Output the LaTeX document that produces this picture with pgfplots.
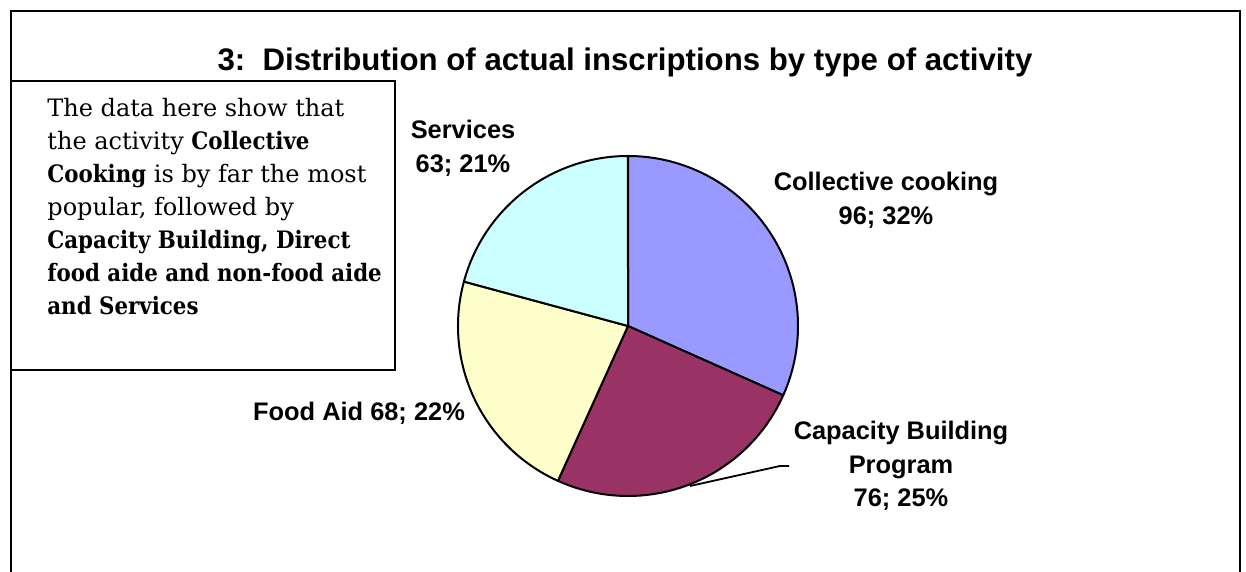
\documentclass[border=0pt]{standalone}
\usepackage{pgfplots}
\pgfplotsset{compat=1.18}
\usepackage{fontspec}
\setmainfont{Liberation Sans}
\newfontfamily\boxfont{DejaVu Serif}[BoldFeatures={FakeStretch=0.89}]

\definecolor{cook}{HTML}{9999FF}
\definecolor{capa}{HTML}{993366}
\definecolor{food}{HTML}{FFFFCC}
\definecolor{serv}{HTML}{CCFFFF}

\begin{document}
\begin{tikzpicture}
% slice angles, clockwise from 12 o'clock; values 96, 76, 68, 63 (total 303)
\pgfmathsetmacro\aA{90}
\pgfmathsetmacro\aB{\aA - 96/303*360}
\pgfmathsetmacro\aC{\aB - 76/303*360}
\pgfmathsetmacro\aD{\aC - 68/303*360}
\pgfmathsetmacro\aE{\aD - 63/303*360}
\begin{axis}[
    x=0.5pt, y=0.5pt,
    xmin=0, xmax=1246, ymin=0, ymax=572,
    hide axis, clip=false,
]
\pgfplotsextra{
  \foreach \s/\e/\c in {\aA/\aB/cook, \aB/\aC/capa, \aC/\aD/food, \aD/\aE/serv} {
    \filldraw[fill=\c, draw=black, line width=1pt, line join=round]
      (axis cs:628,246) -- ++(\s:85pt)
      arc[start angle=\s, end angle=\e, radius=85pt] -- cycle;
  }
}

% outer frame (open at the bottom)
\draw[line width=1.3pt] (axis cs:11,-20) -- (axis cs:11,561) -- (axis cs:1240,561) -- (axis cs:1240,-20);

% title
\node[font=\bfseries\fontsize{15.6}{18}\selectfont] at (axis cs:625,510)
  {3:\ \ Distribution of actual inscriptions by type of activity};

% comment box
\draw[line width=1pt, fill=white] (axis cs:11,202) rectangle (axis cs:395,491);
\node[anchor=north west, inner sep=0pt, align=left,
      font=\boxfont\fontsize{12}{16.5}\selectfont] at (axis cs:47,474)
  {The data here show that\\
   the activity \textbf{Collective}\\
   \textbf{Cooking} is by far the most\\
   popular, followed by\\
   \textbf{Capacity Building, Direct}\\
   \textbf{food aide and non-food aide}\\
   \textbf{and Services}};

% slice labels
\tikzset{lab/.style={font=\bfseries\fontsize{12.7}{16.8}\selectfont, align=center}}
\node[lab] at (axis cs:463,424) {Services\\63; 21\%};
\node[lab] at (axis cs:886,372) {Collective cooking\\96; 32\%};
\node[lab] at (axis cs:359,159) {Food Aid 68; 22\%};
\node[lab] at (axis cs:901,106) {Capacity Building\\Program\\76; 25\%};
\draw[line width=0.9pt] (axis cs:690,86) -- (axis cs:780,106) -- (axis cs:789,106);
\end{axis}
\pgfresetboundingbox
\useasboundingbox (0,0) rectangle (623pt,286pt);
\end{tikzpicture}
\end{document}
